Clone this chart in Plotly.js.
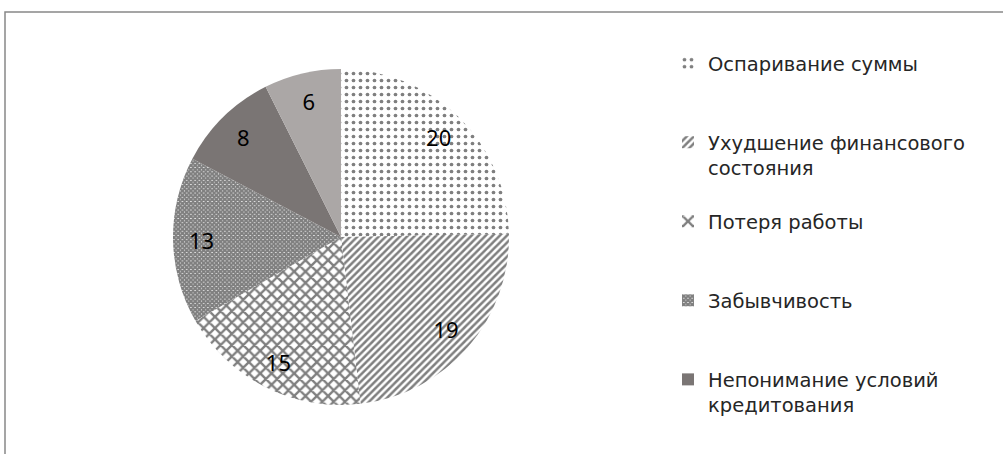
<!DOCTYPE html>
<html>
<head>
<meta charset="utf-8">
<script src="https://cdn.plot.ly/plotly-3.0.1.min.js"></script>
<style>
html,body{margin:0;padding:0;background:#fff;}
#chart{width:1003px;height:454px;}
.legend .scrollbar{display:none;}
</style>
</head>
<body>
<div id="chart"></div>
<script>
var categories = [
  "Оспаривание суммы",
  "Ухудшение финансового<br>состояния",
  "Потеря работы",
  "Забывчивость",
  "Непонимание условий<br>кредитования",
  "Другие причины"
];
var values = [20, 19, 15, 13, 8, 6];

var patternShapes = [".", "/", "x", "x", "", ""];
var patternSizes = [7, 5, 8, 3, 8, 8];
var patternSolidity = [0.22, 0.5, 0.5, 0.9, 0.3, 0.3];
var sliceColors = ["#ffffff", "#ffffff", "#ffffff", "#ffffff", "#7a7574", "#aba7a6"];

// pad single-line legend entries so every entry takes roughly the same height
var legendLabels = categories.map(function (c) {
  var lines = c.split("<br>").length;
  return lines === 1 ? c + "<br> <br> " : c + "<br> ";
});

var pieDomain = {x: [173/1003, 509/1003], y: [1 - 405/454, 1 - 69/454]};

var slices = {
  type: "pie",
  labels: legendLabels,
  values: values,
  textinfo: "none",
  sort: false,
  direction: "clockwise",
  rotation: 0,
  domain: pieDomain,
  marker: {
    colors: sliceColors,
    line: {color: "#ffffff", width: 0},
    pattern: {
      shape: patternShapes,
      size: patternSizes,
      solidity: patternSolidity,
      fgcolor: "#000000",
      bgcolor: sliceColors,
      fillmode: "overlay"
    }
  },
  hoverinfo: "none"
};

// transparent ring carrying the value labels near the outer edge
var labelRing = {
  type: "pie",
  labels: legendLabels,
  values: values,
  text: values.map(String),
  textinfo: "text",
  textposition: "inside",
  insidetextorientation: "horizontal",
  sort: false,
  direction: "clockwise",
  rotation: 0,
  hole: 0.66,
  domain: pieDomain,
  showlegend: false,
  marker: {colors: values.map(function () { return "rgba(0,0,0,0)"; }), line: {width: 0}},
  insidetextfont: {family: "Noto Sans, sans-serif", size: 22, color: "#000000"},
  hoverinfo: "none"
};

var layout = {
  width: 1003,
  height: 454,
  margin: {l: 0, r: 0, t: 0, b: 0},
  paper_bgcolor: "#ffffff",
  showlegend: true,
  legend: {
    x: 668/1003,
    xanchor: "left",
    y: 1 - 44/454,
    yanchor: "top",
    valign: "top",
    maxheight: 388,
    font: {family: "DejaVu Sans, sans-serif", size: 19.5, color: "#262626"},
    bgcolor: "rgba(0,0,0,0)",
    borderwidth: 0
  },
  shapes: [{
    type: "rect", xref: "paper", yref: "paper",
    x0: 5/1003, x1: 1.02, y0: -0.05, y1: 1 - 12/454,
    line: {color: "#888888", width: 1.5},
    fillcolor: "rgba(0,0,0,0)"
  }]
};

Plotly.newPlot("chart", [slices, labelRing], layout, {displayModeBar: false, staticPlot: true});
</script>
</body>
</html>
